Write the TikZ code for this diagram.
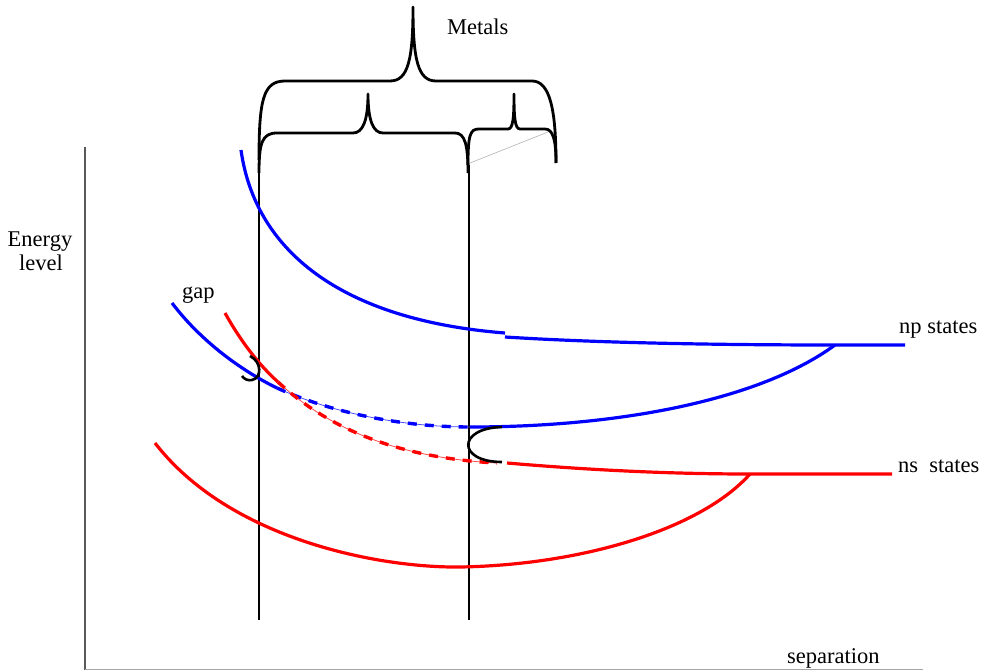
\documentclass[tikz,border=0pt]{standalone}
\usepackage{fontspec}
\setmainfont{Liberation Serif}
\begin{document}
\begin{tikzpicture}[x=1pt,y=-1pt,
  lbl/.style={inner sep=0pt,font=\fontsize{22.5}{27}\selectfont},
  brace/.style={line width=2.8pt,black,line join=round},
  band/.style={line width=3.2pt},
  thinband/.style={line width=0.8pt},
  dashband/.style={line width=3.4pt,dash pattern=on 9pt off 8pt},
  guide/.style={line width=1.2pt,black},
  hook/.style={line width=2.6pt,black}]
\useasboundingbox (0,0) rectangle (982,671);
% axes
\draw[line width=1.3pt,black!65] (85,147) -- (85,670);
\draw[line width=1.3pt,black!35] (85,669.5) -- (923,669.5);
% guide lines
\draw[guide] (259,155) -- (259,620);
\draw[guide] (469,165) -- (469,620);
% braces
\draw[brace] (259,160) .. controls (259,100) and (263,81) .. (285,81) -- (390,81)
  .. controls (408,81) and (413,60) .. (413,7)
  .. controls (413,60) and (418,81) .. (436,81) -- (532,81)
  .. controls (550,81) and (556,110) .. (556,163);
\draw[brace] (259,173) .. controls (259,143) and (262,133) .. (277,133) -- (353,133)
  .. controls (363,133) and (368,120) .. (368,94)
  .. controls (368,120) and (373,133) .. (383,133) -- (455,133)
  .. controls (465,133) and (468,145) .. (468,173);
\draw[brace] (468,165) .. controls (468,135) and (470,129) .. (479,129) -- (508,129)
  .. controls (513,129) and (514,118) .. (514,94)
  .. controls (514,118) and (515,129) .. (520,129) -- (545,129)
  .. controls (553,129) and (556,140) .. (556,163);
\draw[line width=0.6pt,black!30] (470,163) -- (548,132);
% blue upper (np)
\draw[band,blue] (241,150) .. controls (255,250) and (340,320) .. (505,333);
\draw[band,blue] (505,337) .. controls (600,343) and (720,345) .. (835,345) -- (905,345);
% blue lower
\draw[band,blue] (172,303) .. controls (200,340) and (240,370) .. (277,388);
\draw[thinband,blue!70] (277,388) .. controls (330,412) and (400,427) .. (470,427);
\draw[dashband,blue] (277,388) .. controls (330,412) and (400,427) .. (470,427);
\draw[band,blue] (470,427) .. controls (620,427) and (760,400) .. (835,345);
% red upper (ns)
\draw[band,red] (225,313) .. controls (240,340) and (258,364) .. (278,382);
\draw[thinband,red!70] (278,382) .. controls (330,430) and (400,458) .. (497,463);
\draw[dashband,red] (278,382) .. controls (330,430) and (400,458) .. (497,463);
\draw[band,red] (507,463) .. controls (600,471) and (680,474) .. (750,474) -- (892,474);
% red lower
\draw[band,red] (155,443) .. controls (230,540) and (380,568) .. (460,567)
  .. controls (580,565) and (700,530) .. (750,474);
% hooks
\draw[hook] (250,356) .. controls (262,362) and (262,378) .. (252,380) .. controls (248,381) and (244,379) .. (242,376);
\draw[hook] (502,427) .. controls (457,428) and (457,462) .. (502,462);
% labels
\node[lbl,anchor=base west] (metals) at (447,35) {Metals};
\node[lbl,anchor=base] (energy) at (40,246) {Energy};
\node[lbl,anchor=base] (level) at (41,270) {level};
\node[lbl,anchor=base west] (gap) at (182,298) {gap};
\node[lbl,anchor=base west] (np) at (899,333) {np states};
\node[lbl,anchor=base west] (ns) at (898,472) {ns\ \ states};
\node[lbl,anchor=base west] (sep) at (787,663) {separation};
\end{tikzpicture}
\end{document}
